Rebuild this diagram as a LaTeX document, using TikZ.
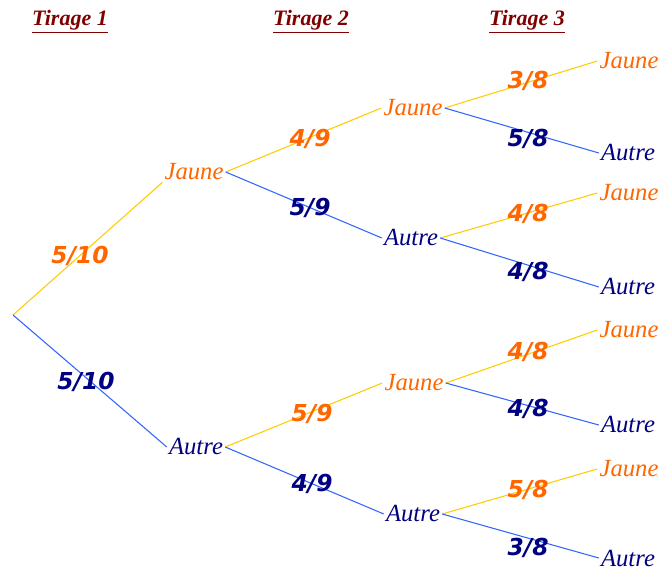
\documentclass[tikz,border=0pt]{standalone}
\usepackage{fontspec}
\newfontfamily\probfont{DejaVu Sans}
\newfontfamily\namefont{Liberation Serif}
\definecolor{orangeP}{HTML}{FF6600}
\definecolor{navyP}{HTML}{000080}
\definecolor{yellowL}{HTML}{FFCC00}
\definecolor{blueL}{HTML}{3366FF}
\definecolor{darkred}{HTML}{800000}
\begin{document}
\begin{tikzpicture}[x=0.75pt,y=-0.75pt,
  outcome/.style={inner sep=1.5pt,font=\namefont\itshape\fontsize{18.5}{18.5}\selectfont},
  jaune/.style={outcome,text=orangeP},
  autre/.style={outcome,text=navyP},
  prob/.style={inner sep=0pt,font=\probfont\bfseries\itshape\fontsize{17.5}{17.5}\selectfont},
  pj/.style={prob,text=orangeP},
  pa/.style={prob,text=navyP},
  yline/.style={draw=yellowL,line width=0.8pt},
  bline/.style={draw=blueL,line width=0.8pt},
  title/.style={text=darkred,font=\namefont\bfseries\itshape\fontsize{16.5}{16.5}\selectfont}]
\useasboundingbox (0,0) rectangle (664,570);

% column headings
\node[title] (t1) at (70,22) {\underline{Tirage 1}};
\node[title] (t2) at (311,22) {\underline{Tirage 2}};
\node[title] (t3) at (527,22) {\underline{Tirage 3}};

% root and first draw
\coordinate (r) at (13,315);
\node[jaune] (j1) at (194,172) {Jaune};
\node[autre] (a1) at (196,447) {Autre};

% second draw
\node[jaune] (j1j) at (413,108) {Jaune};
\node[autre] (j1a) at (411,238) {Autre};
\node[jaune] (a1j) at (414,383) {Jaune};
\node[autre] (a1a) at (413,514) {Autre};

% third draw
\node[jaune] (jjj) at (629,61) {Jaune};
\node[autre] (jja) at (628,153) {Autre};
\node[jaune] (jaj) at (629,193) {Jaune};
\node[autre] (jaa) at (628,287) {Autre};
\node[jaune] (ajj) at (629,330) {Jaune};
\node[autre] (aja) at (628,425) {Autre};
\node[jaune] (aaj) at (629,469) {Jaune};
\node[autre] (aaa) at (628,558) {Autre};

% branches
\draw[yline] (r) -- (j1.south west);
\draw[bline] (r) -- (a1.west);
\draw[yline] (j1.east) -- (j1j.west);
\draw[bline] (j1.east) -- (j1a.west);
\draw[yline] (a1.east) -- (a1j.west);
\draw[bline] (a1.east) -- (a1a.west);
\draw[yline] (j1j.east) -- (jjj.west);
\draw[bline] (j1j.east) -- (jja.west);
\draw[yline] (j1a.east) -- (jaj.west);
\draw[bline] (j1a.east) -- (jaa.west);
\draw[yline] (a1j.east) -- (ajj.west);
\draw[bline] (a1j.east) -- (aja.west);
\draw[yline] (a1a.east) -- (aaj.west);
\draw[bline] (a1a.east) -- (aaa.west);

% probabilities
\node[pj] (p1) at (80,256) {5/10};
\node[pa] (p2) at (86,382) {5/10};
\node[pj] (p3) at (310,139) {4/9};
\node[pa] (p4) at (310,208) {5/9};
\node[pj] (p5) at (312,414) {5/9};
\node[pa] (p6) at (312,484) {4/9};
\node[pj] (p7) at (528,81) {3/8};
\node[pa] (p8) at (528,139) {5/8};
\node[pj] (p9) at (528,214) {4/8};
\node[pa] (p10) at (528,272) {4/8};
\node[pj] (p11) at (528,352) {4/8};
\node[pa] (p12) at (528,409) {4/8};
\node[pj] (p13) at (528,490) {5/8};
\node[pa] (p14) at (528,548) {3/8};
\end{tikzpicture}
\end{document}
